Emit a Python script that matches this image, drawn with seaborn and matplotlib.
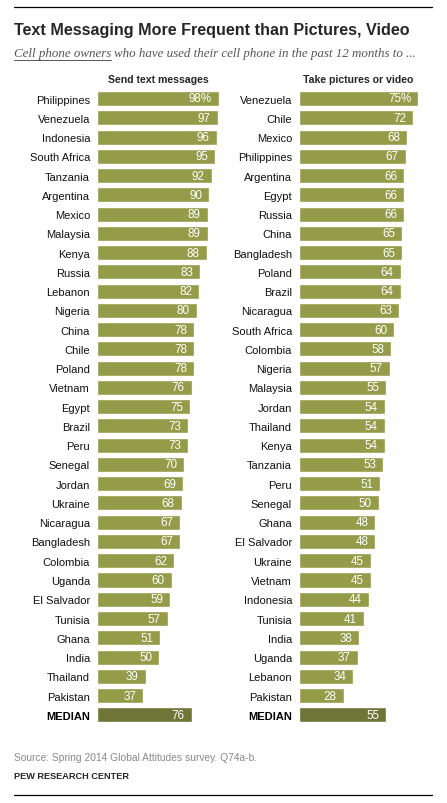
import numpy as np
import pandas as pd
import matplotlib
matplotlib.use('Agg')
import matplotlib.pyplot as plt
import seaborn as sns
from matplotlib.lines import Line2D

# data
text_countries = ['Philippines', 'Venezuela', 'Indonesia', 'South Africa', 'Tanzania', 'Argentina',
                  'Mexico', 'Malaysia', 'Kenya', 'Russia', 'Lebanon', 'Nigeria', 'China', 'Chile',
                  'Poland', 'Vietnam', 'Egypt', 'Brazil', 'Peru', 'Senegal', 'Jordan', 'Ukraine',
                  'Nicaragua', 'Bangladesh', 'Colombia', 'Uganda', 'El Salvador', 'Tunisia',
                  'Ghana', 'India', 'Thailand', 'Pakistan']
text_values = [98, 97, 96, 95, 92, 90, 89, 89, 88, 83, 82, 80, 78, 78, 78, 76, 75, 73, 73, 70,
               69, 68, 67, 67, 62, 60, 59, 57, 51, 50, 39, 37]
text_median = 76

pic_countries = ['Venezuela', 'Chile', 'Mexico', 'Philippines', 'Argentina', 'Egypt', 'Russia',
                 'China', 'Bangladesh', 'Poland', 'Brazil', 'Nicaragua', 'South Africa', 'Colombia',
                 'Nigeria', 'Malaysia', 'Jordan', 'Thailand', 'Kenya', 'Tanzania', 'Peru', 'Senegal',
                 'Ghana', 'El Salvador', 'Ukraine', 'Vietnam', 'Indonesia', 'Tunisia', 'India',
                 'Uganda', 'Lebanon', 'Pakistan']
pic_values = [75, 72, 68, 67, 66, 66, 66, 65, 65, 64, 64, 63, 60, 58, 57, 55, 54, 54, 54, 53,
              51, 50, 48, 48, 45, 45, 44, 41, 38, 37, 34, 28]
pic_median = 55

BAR = '#949C4A'
MED = '#6E7536'

sns.set_style('white')
plt.rcParams['font.family'] = ['Liberation Sans', 'DejaVu Sans']

W, H = 447, 804
fig = plt.figure(figsize=(W / 100, H / 100), dpi=100)

pitch = 19.26
n = len(text_countries) + 1
top_px = 99.5 - 0.5 * pitch
bot_px = top_px + n * pitch


def panel(x0_px, ppu, countries, values, median, header, hx):
    ax = fig.add_axes([x0_px / W, 1 - bot_px / H, 100 * ppu / W, (bot_px - top_px) / H])
    df = pd.DataFrame({'country': countries + ['MEDIAN'], 'value': values + [median]})
    colors = [BAR] * len(countries) + [MED]
    sns.barplot(data=df, x='value', y='country', hue='country', palette=colors,
                legend=False, width=0.78, ax=ax, saturation=1)
    ax.set_xlim(0, 100)
    ax.set_ylim(n - 0.5, -0.5)
    ax.set_xlabel('')
    ax.set_ylabel('')
    ax.set_xticks([])
    ax.tick_params(axis='y', length=0, pad=5, labelsize=8.0, labelcolor='#111111')
    for lab in ax.get_yticklabels():
        if lab.get_text() == 'MEDIAN':
            lab.set_fontweight('bold')
            lab.set_color('black')
    sns.despine(ax=ax, left=True, bottom=True)
    for i, v in enumerate(df['value']):
        txt = f'{v}%' if i == 0 else f'{v}'
        ax.text(v - 7 / ppu, i, txt, ha='right', va='center', color='white', fontsize=8.4)
    ax.text(hx, -1.0, header, ha='center', va='center', fontsize=7.6, fontweight='bold')
    return ax


ax1 = panel(97, 1.245, text_countries, text_values, text_median, 'Send text messages', 49)
ax2 = panel(299, 1.59, pic_countries, pic_values, pic_median, 'Take pictures or video', 37)

# rules top and bottom
fig.add_artist(Line2D([14 / W, 432 / W], [1 - 8 / H, 1 - 8 / H], color='black', lw=0.9))
fig.add_artist(Line2D([14 / W, 432 / W], [1 - 796 / H, 1 - 796 / H], color='black', lw=0.9))

fig.text(14 / W, 1 - 35 / H, 'Text Messaging More Frequent than Pictures, Video',
         fontsize=11.6, fontweight='bold', va='baseline', ha='left')

serif = ['Liberation Serif', 'DejaVu Serif']
t1 = fig.text(14 / W, 1 - 57 / H, 'Cell phone owners', family=serif, style='italic',
              fontsize=9.4, color='#555555', va='baseline', ha='left')
fig.canvas.draw()
r = fig.canvas.get_renderer()
bb = t1.get_window_extent(r)
fw, fh = fig.bbox.width, fig.bbox.height
fig.add_artist(Line2D([bb.x0 / fw, bb.x1 / fw], [(bb.y0 - 0.5) / fh] * 2,
                      color='#555555', lw=0.7))
fig.text(bb.x1 / fw + 3 / W, 1 - 57 / H,
         'who have used their cell phone in the past 12 months to ...',
         family=serif, style='italic', fontsize=9.4, color='#555555', va='baseline', ha='left')

fig.text(14 / W, 1 - 761 / H, 'Source: Spring 2014 Global Attitudes survey. Q74a-b.',
         fontsize=7.4, color='#8A8A8A', va='baseline', ha='left')
fig.text(14 / W, 1 - 779 / H, 'PEW RESEARCH CENTER', fontsize=6.6, fontweight='bold',
         va='baseline', ha='left')

fig.savefig('out.png', dpi=100)
